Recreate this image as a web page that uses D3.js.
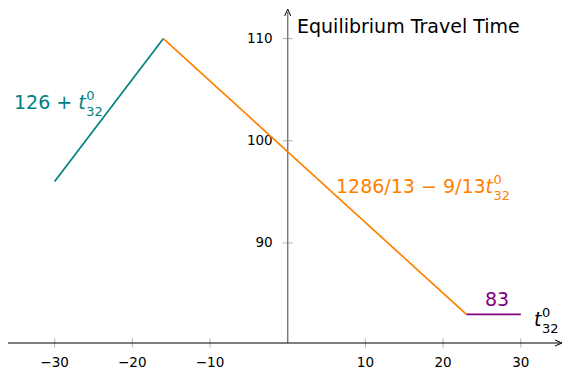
<!DOCTYPE html>
<html>
<head>
<meta charset="utf-8">
<script src="https://cdn.jsdelivr.net/npm/d3@7"></script>
<style>
  body { margin: 0; background: #fff; }
  text { font-family: "DejaVu Sans", sans-serif; }
</style>
</head>
<body>
<div id="chart"></div>
<script>
// piecewise equilibrium travel time vs t32^0
var seg_names = ['rise', 'fall', 'flat'];
var seg_x = [[-30, -16], [-16, 23], [23, 30]];
var seg_y = [[96, 110], [110, 83], [83, 83]];
var seg_colors = ['#008080', '#ff8000', '#800080'];
var x_ticks = [-30, -20, -10, 10, 20, 30];
var y_ticks = [90, 100, 110];

var width = 566, height = 371;

var svg = d3.select('#chart')
  .append('svg')
  .attr('width', width)
  .attr('height', height);

var x = d3.scaleLinear().domain([-36, 35.3]).range([8, 562]);
var y = d3.scaleLinear().domain([80.2, 112.8]).range([343, 10]);

var x0 = x(0), y0 = y(80.2);

// ticks
svg.selectAll('.xtick')
  .data(x_ticks)
  .enter()
  .append('line')
  .attr('x1', d => x(d)).attr('x2', d => x(d))
  .attr('y1', y0 - 4.5).attr('y2', y0 + 4.5)
  .attr('stroke', '#b0b0b0')
  .attr('stroke-width', 1);

svg.selectAll('.xlabel')
  .data(x_ticks)
  .enter()
  .append('text')
  .attr('x', d => x(d))
  .attr('y', y0 + 24)
  .attr('text-anchor', 'middle')
  .attr('font-size', 13.5)
  .text(d => d < 0 ? '\u2212' + Math.abs(d) : d);

svg.selectAll('.ytick')
  .data(y_ticks)
  .enter()
  .append('line')
  .attr('x1', x0 - 5).attr('x2', x0 + 5)
  .attr('y1', d => y(d)).attr('y2', d => y(d))
  .attr('stroke', '#b0b0b0')
  .attr('stroke-width', 1);

svg.selectAll('.ylabel')
  .data(y_ticks)
  .enter()
  .append('text')
  .attr('x', x0 - 15)
  .attr('y', d => y(d) + 4)
  .attr('text-anchor', 'end')
  .attr('font-size', 13.5)
  .text(d => d);

// axes
svg.append('line')
  .attr('x1', x0).attr('x2', x0)
  .attr('y1', y0).attr('y2', 12)
  .attr('stroke', '#777')
  .attr('stroke-width', 1.4);
svg.append('path')
  .attr('d', 'M' + (x0 - 3) + ',16 L' + x0 + ',9 L' + (x0 + 3) + ',16')
  .attr('fill', 'none')
  .attr('stroke', '#000')
  .attr('stroke-width', 1);

svg.append('line')
  .attr('x1', 8).attr('x2', 560)
  .attr('y1', y0).attr('y2', y0)
  .attr('stroke', '#000')
  .attr('stroke-width', 1.2);
svg.append('path')
  .attr('d', 'M555,' + (y0 - 3) + ' L562,' + y0 + ' L555,' + (y0 + 3))
  .attr('fill', 'none')
  .attr('stroke', '#000')
  .attr('stroke-width', 1);

// segments
var line = d3.line().x(d => x(d[0])).y(d => y(d[1]));
seg_names.forEach(function(name, i) {
  var pts = [[seg_x[i][0], seg_y[i][0]], [seg_x[i][1], seg_y[i][1]]];
  svg.append('path')
    .attr('class', 'seg-' + name)
    .attr('d', line(pts))
    .attr('fill', 'none')
    .attr('stroke', seg_colors[i])
    .attr('stroke-width', 1.7);
});

// t_32^0 : italic t, then sup and sub as their own texts
var add_t = function(px, py, color) {
  var t = svg.append('text')
    .attr('x', px).attr('y', py)
    .attr('font-size', 19)
    .attr('font-style', 'italic')
    .attr('fill', color)
    .text('t');
  var w = t.node().getComputedTextLength();
  svg.append('text')
    .attr('x', px + w + 0.5).attr('y', py - 9.5)
    .attr('font-size', 13)
    .attr('fill', color)
    .text('0');
  svg.append('text')
    .attr('x', px + w + 0.5).attr('y', py + 6.5)
    .attr('font-size', 13)
    .attr('fill', color)
    .text('32');
};

var t1 = svg.append('text')
  .attr('x', 14).attr('y', 109)
  .attr('font-size', 19)
  .attr('fill', seg_colors[0])
  .text('126 +');
add_t(14 + t1.node().getComputedTextLength() + 6, 109, seg_colors[0]);

var t2 = svg.append('text')
  .attr('x', 336).attr('y', 193)
  .attr('font-size', 19)
  .attr('fill', seg_colors[1])
  .text('1286/13 \u2212 9/13');
add_t(336 + t2.node().getComputedTextLength(), 193, seg_colors[1]);

svg.append('text')
  .attr('x', 497).attr('y', 306)
  .attr('text-anchor', 'middle')
  .attr('font-size', 19)
  .attr('fill', seg_colors[2])
  .text('83');

add_t(534, 326, '#000');

svg.append('text')
  .attr('x', 297).attr('y', 33)
  .attr('font-size', 19)
  .attr('fill', '#000')
  .text('Equilibrium Travel Time');
</script>
</body>
</html>
